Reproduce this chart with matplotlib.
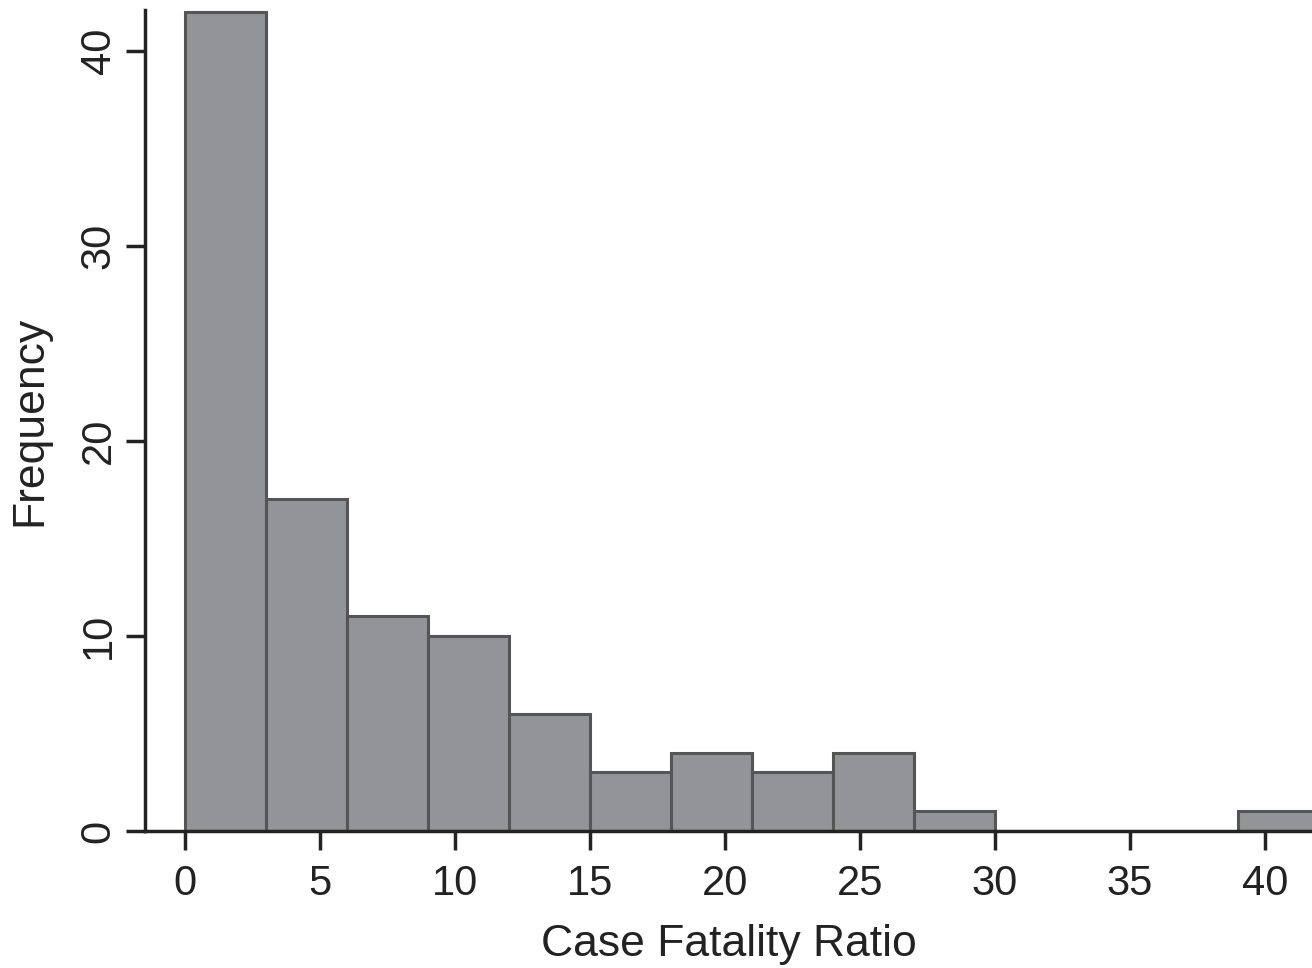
import matplotlib
matplotlib.use('Agg')
import matplotlib.pyplot as plt

# histogram of case fatality ratio, bins of width 3
bin_edges = [0, 3, 6, 9, 12, 15, 18, 21, 24, 27, 30, 33, 36, 39, 42]
counts = [42, 17, 11, 10, 6, 3, 4, 3, 4, 1, 0, 0, 0, 1]
x_ticks = [0, 5, 10, 15, 20, 25, 30, 35, 40]
y_ticks = [0, 10, 20, 30, 40]

plt.rcParams['font.family'] = ['Liberation Sans', 'DejaVu Sans']

fig = plt.figure(figsize=(13.12, 9.68), dpi=100)
ax = fig.add_axes([145 / 1312, 137 / 968, 1 - 145 / 1312, 821 / 968])

ax.bar(bin_edges[:-1], [c if c > 0 else float('nan') for c in counts],
       width=3, align='edge', facecolor='#939497', edgecolor='#555555', linewidth=2.2)

ax.set_xlim(-1.48, 41.75)
ax.set_ylim(0, 42.1)
ax.set_xticks(x_ticks)
ax.set_yticks(y_ticks)

for side in ['top', 'right']:
    ax.spines[side].set_visible(False)
for side in ['left', 'bottom']:
    ax.spines[side].set_linewidth(2.5)
    ax.spines[side].set_color('#222222')

ax.tick_params(axis='both', length=14, width=2.5, color='#222222',
               labelsize=30, labelcolor='#222222')
ax.tick_params(axis='x', pad=10)
ax.tick_params(axis='y', pad=5)
for lbl in ax.get_yticklabels():
    lbl.set_rotation(90)
    lbl.set_va('center')

ax.set_xlabel('Case Fatality Ratio', fontsize=32, color='#222222', labelpad=14)
ax.set_ylabel('Frequency', fontsize=32, color='#222222', labelpad=20)

fig.savefig('out.png', dpi=100)
plt.close(fig)
